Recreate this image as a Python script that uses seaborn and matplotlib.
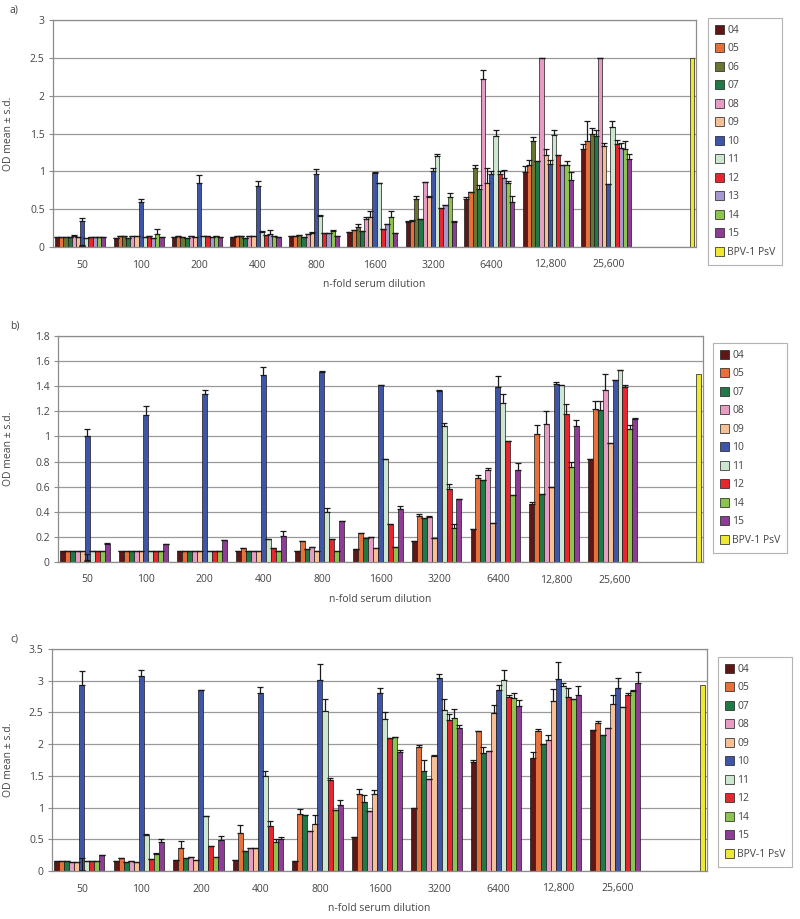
import numpy as np
import pandas as pd
import matplotlib
matplotlib.use("Agg")
import matplotlib.pyplot as plt
from matplotlib.ticker import MultipleLocator, FixedLocator, FuncFormatter
from matplotlib.colors import to_rgba
import seaborn as sns

# --- Categories ---
dilutions = ["50", "100", "200", "400", "800", "1600", "3200", "6400", "12,800", "25,600"]
psv_slot = " "          # 11th, unlabelled category that holds the control bar
psv_name = "BPV-1 PsV"

# --- Panel a) OD means ---
a_04 = [0.13, 0.12, 0.13, 0.13, 0.15, 0.20, 0.33, 0.64, 0.99, 1.30]
a_05 = [0.13, 0.15, 0.14, 0.14, 0.15, 0.23, 0.35, 0.73, 1.09, 1.40]
a_06 = [0.13, 0.14, 0.13, 0.14, 0.16, 0.27, 0.63, 1.04, 1.40, 1.49]
a_07 = [0.13, 0.12, 0.12, 0.12, 0.13, 0.21, 0.37, 0.76, 1.14, 1.47]
a_08 = [0.15, 0.15, 0.14, 0.14, 0.17, 0.37, 0.86, 2.22, 2.50, 2.50]
a_09 = [0.13, 0.14, 0.13, 0.14, 0.19, 0.39, 0.66, 0.84, 1.22, 1.33]
a_10 = [0.35, 0.60, 0.84, 0.80, 0.97, 0.98, 1.01, 0.97, 1.10, 0.83]
a_11 = [0.12, 0.13, 0.15, 0.20, 0.41, 0.84, 1.20, 1.47, 1.48, 1.58]
a_12 = [0.13, 0.14, 0.14, 0.16, 0.19, 0.24, 0.52, 0.96, 1.22, 1.36]
a_13 = [0.13, 0.12, 0.13, 0.17, 0.18, 0.30, 0.55, 0.91, 1.09, 1.31]
a_14 = [0.13, 0.17, 0.15, 0.14, 0.21, 0.40, 0.66, 0.84, 1.09, 1.30]
a_15 = [0.13, 0.13, 0.13, 0.13, 0.14, 0.19, 0.33, 0.60, 0.88, 1.16]
a_psv = 2.50

# --- Panel a) s.d. (upper error only) ---
a_04_sd = [0, 0, 0, 0, 0, 0, 0.01, 0.02, 0.08, 0.06]
a_05_sd = [0, 0, 0, 0, 0, 0, 0.01, 0, 0.06, 0.26]
a_06_sd = [0, 0, 0, 0, 0, 0.03, 0.04, 0.04, 0.06, 0.08]
a_07_sd = [0, 0, 0, 0, 0, 0, 0, 0.06, 0, 0.08]
a_08_sd = [0.01, 0, 0, 0, 0, 0.03, 0, 0.12, 0, 0]
a_09_sd = [0, 0, 0, 0, 0.01, 0.08, 0.02, 0.20, 0.07, 0.05]
a_10_sd = [0.03, 0.03, 0.11, 0.07, 0.06, 0.01, 0.03, 0.03, 0.05, 0]
a_11_sd = [0, 0, 0, 0.01, 0.01, 0.01, 0.03, 0.08, 0.07, 0.08]
a_12_sd = [0, 0, 0, 0, 0, 0, 0, 0.04, 0, 0.06]
a_13_sd = [0, 0, 0, 0.05, 0, 0.01, 0.01, 0.11, 0, 0.06]
a_14_sd = [0, 0.07, 0, 0, 0.01, 0.07, 0.06, 0.03, 0.04, 0.10]
a_15_sd = [0, 0, 0, 0, 0, 0, 0.01, 0.07, 0.11, 0.07]

# --- Panel b) OD means ---
b_04 = [0.085, 0.085, 0.085, 0.085, 0.085, 0.10, 0.17, 0.265, 0.46, 0.82]
b_05 = [0.085, 0.085, 0.085, 0.11, 0.165, 0.23, 0.37, 0.67, 1.02, 1.22]
b_07 = [0.09, 0.09, 0.09, 0.085, 0.10, 0.19, 0.35, 0.65, 0.54, 1.21]
b_08 = [0.085, 0.085, 0.085, 0.085, 0.12, 0.20, 0.36, 0.73, 1.10, 1.37]
b_09 = [0.09, 0.085, 0.085, 0.085, 0.085, 0.11, 0.19, 0.31, 0.60, 0.95]
b_10 = [1.00, 1.17, 1.34, 1.49, 1.51, 1.41, 1.36, 1.39, 1.42, 1.45]
b_11 = [0.085, 0.085, 0.09, 0.18, 0.40, 0.82, 1.08, 1.27, 1.41, 1.53]
b_12 = [0.09, 0.09, 0.09, 0.11, 0.18, 0.30, 0.58, 0.96, 1.18, 1.39]
b_14 = [0.09, 0.09, 0.085, 0.09, 0.09, 0.12, 0.27, 0.53, 0.76, 1.06]
b_15 = [0.14, 0.14, 0.175, 0.21, 0.33, 0.42, 0.50, 0.73, 1.08, 1.14]
b_psv = 1.50

b_04_sd = [0, 0, 0, 0, 0, 0, 0, 0, 0.02, 0]
b_05_sd = [0, 0, 0, 0, 0, 0, 0.01, 0.02, 0.07, 0.06]
b_07_sd = [0, 0, 0, 0, 0, 0, 0, 0, 0, 0.07]
b_08_sd = [0, 0, 0, 0, 0, 0, 0.01, 0.02, 0.10, 0.13]
b_09_sd = [0, 0, 0, 0, 0, 0, 0, 0, 0, 0]
b_10_sd = [0.06, 0.07, 0.03, 0.06, 0.01, 0, 0.01, 0.09, 0.01, 0]
b_11_sd = [0, 0, 0, 0, 0.03, 0, 0.03, 0.07, 0, 0]
b_12_sd = [0, 0, 0, 0, 0, 0, 0.04, 0, 0.08, 0.02]
b_14_sd = [0, 0, 0, 0, 0, 0, 0.03, 0, 0.04, 0.03]
b_15_sd = [0.015, 0, 0, 0.04, 0, 0.03, 0, 0.06, 0.05, 0.01]

# --- Panel c) OD means ---
c_04 = [0.15, 0.15, 0.17, 0.18, 0.15, 0.54, 1.00, 1.72, 1.78, 2.22]
c_05 = [0.15, 0.21, 0.37, 0.60, 0.90, 1.22, 1.96, 2.21, 2.21, 2.34]
c_07 = [0.15, 0.14, 0.21, 0.32, 0.88, 1.09, 1.58, 1.86, 2.00, 2.14]
c_08 = [0.14, 0.16, 0.22, 0.37, 0.63, 0.95, 1.45, 1.89, 2.06, 2.25]
c_09 = [0.14, 0.14, 0.18, 0.36, 0.74, 1.22, 1.81, 2.49, 2.68, 2.64]
c_10 = [2.94, 3.08, 2.86, 2.81, 3.01, 2.80, 3.04, 2.85, 3.02, 2.88]
c_11 = [0.16, 0.56, 0.87, 1.50, 2.52, 2.40, 2.54, 3.01, 2.91, 2.59]
c_12 = [0.15, 0.19, 0.39, 0.71, 1.43, 2.10, 2.38, 2.74, 2.74, 2.78]
c_14 = [0.15, 0.27, 0.22, 0.46, 0.96, 2.11, 2.42, 2.73, 2.71, 2.84]
c_15 = [0.26, 0.46, 0.49, 0.51, 1.04, 1.87, 2.26, 2.60, 2.78, 2.96]
c_psv = 2.94

c_04_sd = [0, 0, 0, 0, 0, 0, 0, 0.03, 0.09, 0]
c_05_sd = [0, 0, 0.10, 0.13, 0.08, 0.08, 0.02, 0, 0.03, 0.02]
c_07_sd = [0, 0, 0, 0, 0, 0.11, 0.17, 0.09, 0, 0]
c_08_sd = [0, 0, 0, 0, 0, 0, 0, 0, 0.08, 0]
c_09_sd = [0, 0, 0, 0, 0.14, 0.06, 0.02, 0.13, 0.19, 0.14]
c_10_sd = [0.21, 0.09, 0, 0.09, 0.25, 0.08, 0.06, 0.08, 0.27, 0.16]
c_11_sd = [0, 0.02, 0, 0.07, 0.19, 0.11, 0.17, 0.16, 0.06, 0]
c_12_sd = [0, 0, 0, 0.08, 0.03, 0, 0.09, 0.04, 0.15, 0.02]
c_14_sd = [0, 0.02, 0, 0.04, 0, 0, 0.14, 0.07, 0, 0.01]
c_15_sd = [0, 0.05, 0.06, 0.02, 0.08, 0.03, 0.04, 0.10, 0.13, 0.17]

# --- Colours (Excel-like) ---
colors = {
    "04": "#5e1616", "05": "#e8703a", "06": "#6c7433", "07": "#1f7a45",
    "08": "#e79cc4", "09": "#f6bf95", "10": "#3f56a6", "11": "#cde6cf",
    "12": "#e8262d", "13": "#a598cc", "14": "#8dc450", "15": "#8f3c97",
    psv_name: "#efe833",
}

panels = [
    ("a)", {"04": (a_04, a_04_sd), "05": (a_05, a_05_sd), "06": (a_06, a_06_sd),
            "07": (a_07, a_07_sd), "08": (a_08, a_08_sd), "09": (a_09, a_09_sd),
            "10": (a_10, a_10_sd), "11": (a_11, a_11_sd), "12": (a_12, a_12_sd),
            "13": (a_13, a_13_sd), "14": (a_14, a_14_sd), "15": (a_15, a_15_sd)},
     a_psv, 3.0, 0.5, (53, 20, 696, 247), (708, 18)),
    ("b)", {"04": (b_04, b_04_sd), "05": (b_05, b_05_sd), "07": (b_07, b_07_sd),
            "08": (b_08, b_08_sd), "09": (b_09, b_09_sd), "10": (b_10, b_10_sd),
            "11": (b_11, b_11_sd), "12": (b_12, b_12_sd), "14": (b_14, b_14_sd),
            "15": (b_15, b_15_sd)},
     b_psv, 1.8, 0.2, (58, 336, 703, 562), (713, 343)),
    ("c)", {"04": (c_04, c_04_sd), "05": (c_05, c_05_sd), "07": (c_07, c_07_sd),
            "08": (c_08, c_08_sd), "09": (c_09, c_09_sd), "10": (c_10, c_10_sd),
            "11": (c_11, c_11_sd), "12": (c_12, c_12_sd), "14": (c_14, c_14_sd),
            "15": (c_15, c_15_sd)},
     c_psv, 3.5, 0.5, (52, 649, 707, 871), (718, 657)),
]

sns.set_theme(style="white")
plt.rcParams["font.family"] = ["Open Sans", "DejaVu Sans"]
text_col = "#444444"
frame_col = "#8c8c8c"

W, H = 800, 919
fig = plt.figure(figsize=(W / 100, H / 100), dpi=100)

cat_order = dilutions + [psv_slot]

for tag, series, psv_val, ymax, ystep, box, leg_xy in panels:
    x0, y0, x1, y1 = box
    ax = fig.add_axes([x0 / W, 1 - y1 / H, (x1 - x0) / W, (y1 - y0) / H])

    rows = []
    for name, (vals, _) in series.items():
        for d, v in zip(dilutions, vals):
            rows.append({"dilution": d, "serum": name, "od": v})
    rows.append({"dilution": psv_slot, "serum": psv_name, "od": psv_val})
    df = pd.DataFrame(rows)
    hue_order = list(series.keys()) + [psv_name]

    sns.barplot(data=df, x="dilution", y="od", hue="serum", order=cat_order,
                hue_order=hue_order, palette=colors, saturation=1, errorbar=None,
                width=0.93, edgecolor="#1a1a1a", linewidth=0.5, ax=ax)

    # plus-only error bars on top of each bar
    lookup = {tuple(np.round(to_rgba(colors[k]), 3)): k for k in series}
    for bar in ax.patches:
        name = lookup.get(tuple(np.round(bar.get_facecolor(), 3)))
        if name is None or np.isnan(bar.get_height()):
            continue
        xc = bar.get_x() + bar.get_width() / 2
        idx = int(round(xc))
        sd = series[name][1][idx]
        ax.errorbar([xc], [bar.get_height()], yerr=[[0], [sd]], fmt="none",
                    ecolor="#1a1a1a", elinewidth=0.9, capsize=2.0, capthick=0.9)

    ax.set_ylim(0, ymax)
    ax.yaxis.set_major_locator(MultipleLocator(ystep))
    ax.yaxis.set_major_formatter(FuncFormatter(lambda v, p: f"{v:g}"))
    ax.grid(axis="y", color="#9a9a9a", linewidth=0.9)
    ax.set_axisbelow(True)
    ax.set_xlim(-0.5, len(cat_order) - 0.5)
    ax.xaxis.set_minor_locator(FixedLocator(np.arange(-0.5, len(cat_order), 1.0)))
    ax.tick_params(axis="x", which="major", length=0, pad=9, labelsize=7.5, labelcolor=text_col)
    ax.tick_params(axis="x", which="minor", length=4, width=0.8, color=frame_col, direction="out")
    ax.tick_params(axis="y", length=3, width=0.8, color=frame_col, direction="out",
                   labelsize=7.5, labelcolor=text_col, pad=3, left=True)
    for s in ax.spines.values():
        s.set_visible(True)
        s.set_color(frame_col)
        s.set_linewidth(0.9)

    ax.set_ylabel("OD mean ± s.d.", fontsize=7.5, color=text_col)
    ax.yaxis.set_label_coords((14 - x0) / (x1 - x0), 0.5)
    ax.set_xlabel("n-fold serum dilution", fontsize=7.5, color=text_col, labelpad=6)

    fig.text(10 / W, 1 - (y0 - 10) / H, tag, fontsize=7.5, color=text_col, va="center")

    sns.move_legend(ax, "upper left", bbox_to_anchor=(leg_xy[0] / W, 1 - leg_xy[1] / H),
                    bbox_transform=fig.transFigure, title=None, frameon=True,
                    fancybox=False, edgecolor="#a0a0a0", fontsize=7.5,
                    labelspacing=0.72, handlelength=0.9, handleheight=0.9,
                    handletextpad=0.3, borderpad=0.65, borderaxespad=0)
    leg = ax.get_legend()
    leg.get_frame().set_linewidth(0.8)
    leg._legend_box.align = "left"
    for t in leg.get_texts():
        t.set_color(text_col)

fig.savefig("out.png", dpi=100)
